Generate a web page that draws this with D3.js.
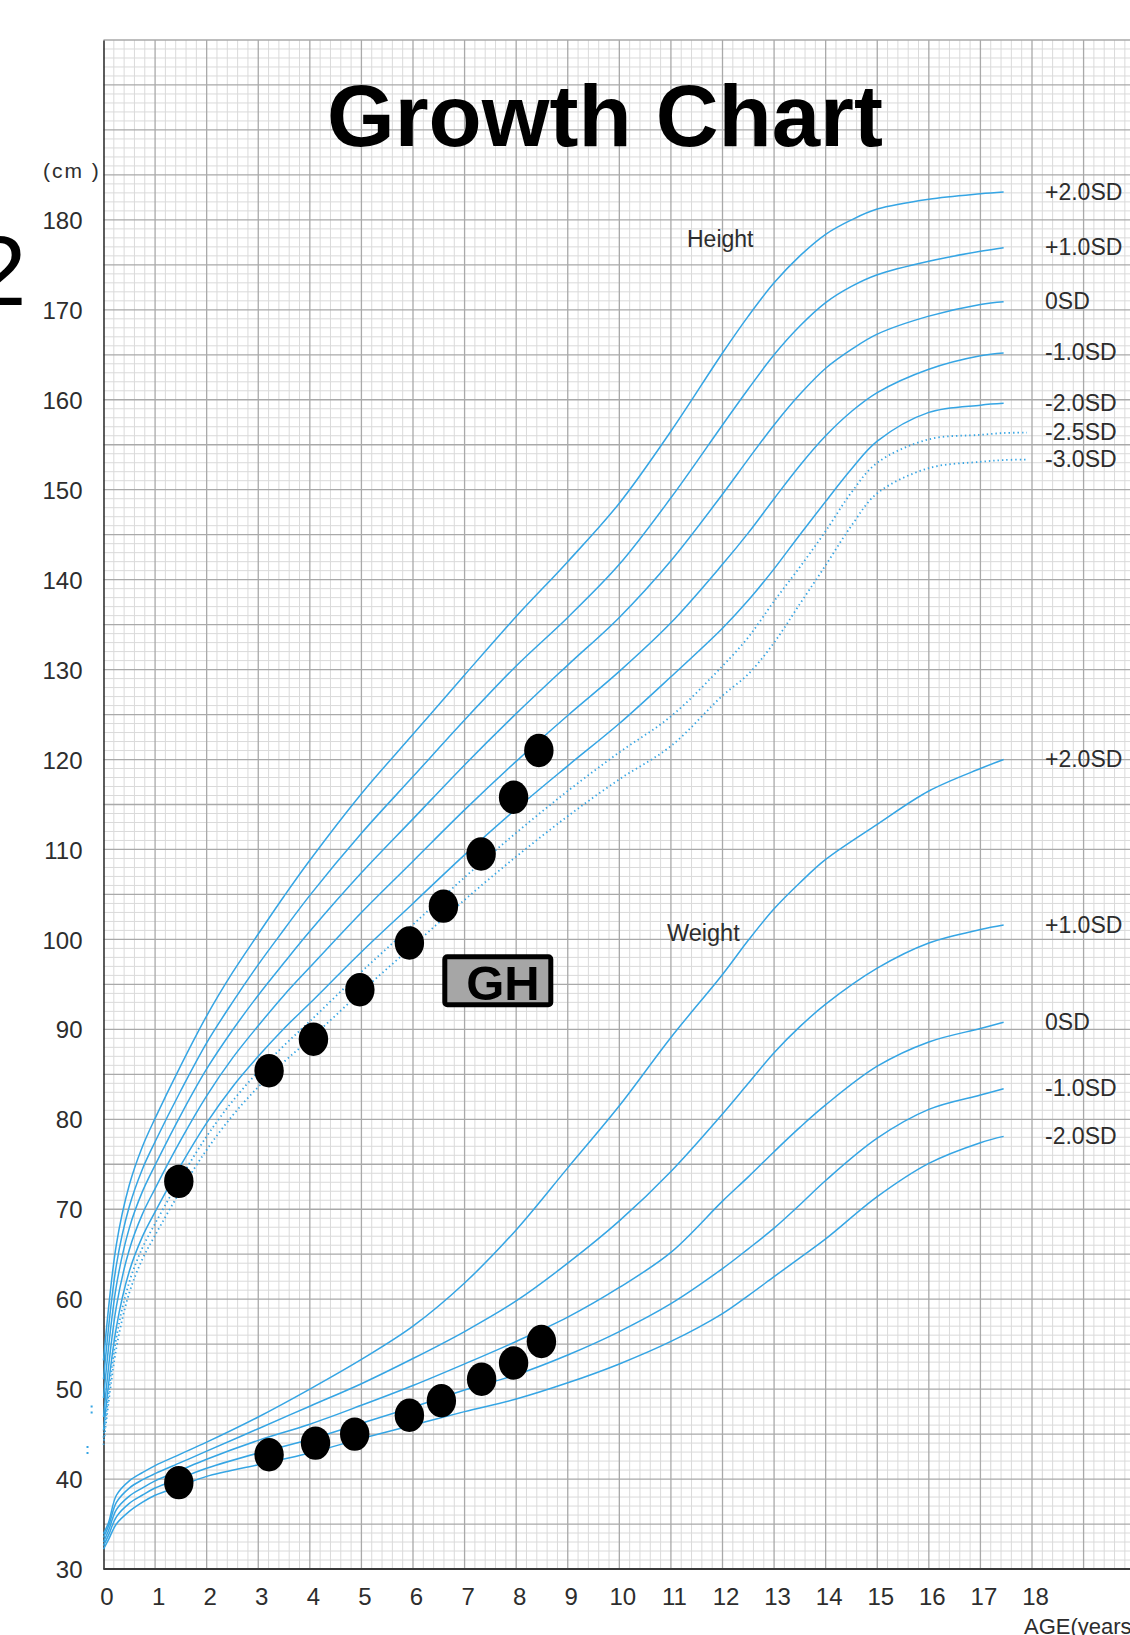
<!DOCTYPE html>
<html><head><meta charset="utf-8">
<script src="https://cdn.jsdelivr.net/npm/d3@7"></script>
<style>
body{margin:0;background:#fff}
svg{display:block}
text{font-family:"Liberation Sans",Arial,Helvetica,sans-serif}
</style>
</head><body>
<svg id="chart" width="1130" height="1635"></svg>
<script>
// ---------- DATA (axis units: cm; weight curves drawn on the same axis) ----------
const xTicks = [0,1,2,3,4,5,6,7,8,9,10,11,12,13,14,15,16,17,18];
const yTicks = [30,40,50,60,70,80,90,100,110,120,130,140,150,160,170,180];

const ageH  = [0,0.25,0.5,0.75,1,1.5,2,2.5,3,3.5,4,5,6,7,8,9,10,11,12,12.5,13,13.5,14,14.5,15,16,17,17.45];
const hP2 = [53.2,66.1,72.7,76.9,80.1,86.0,91.5,96.3,100.6,104.8,108.8,116.2,122.8,129.4,135.9,142.0,148.5,156.5,165.2,169.3,173.0,176.0,178.4,180.0,181.2,182.3,182.9,183.1];
const hP1 = [51.1,63.8,70.3,74.4,77.5,83.2,88.5,93.0,97.2,101.1,104.9,111.8,118.1,124.4,130.4,135.8,141.7,149.1,157.2,161.2,165.0,168.2,170.8,172.6,173.9,175.4,176.5,176.9];
const h0  = [49.0,61.5,67.9,71.9,74.9,80.5,85.6,89.9,93.8,97.4,100.9,107.4,113.4,119.4,125.1,130.5,135.8,142.1,149.5,153.4,157.2,160.6,163.5,165.6,167.3,169.3,170.6,170.9];
const hM1 = [46.9,59.2,65.5,69.4,72.3,77.7,82.6,86.8,90.4,93.8,96.9,103.0,108.7,114.4,119.8,124.9,129.8,135.2,141.7,145.2,149.0,152.7,156.0,158.7,160.8,163.4,164.9,165.2];
const hM2 = [45.4,56.9,63.1,66.9,69.7,74.9,79.6,83.6,87.0,90.1,92.9,98.6,104.0,109.4,114.5,119.3,124.0,129.2,134.6,137.7,141.2,145.0,148.7,152.3,155.4,158.6,159.4,159.6];

const ageHD = [0,0.25,0.5,0.75,1,1.5,2,2.5,3,3.5,4,5,6,7,8,9,10,11,12,12.5,13,13.5,14,14.5,15,16,17,17.45,17.9];
const hM25 = [44.6,55.75,61.9,65.65,68.4,73.5,78.1,82.0,85.3,88.2,90.9,96.4,101.65,106.9,111.85,116.5,120.8,124.8,130.4,133.6,137.6,141.4,145.4,149.7,153.0,155.6,156.1,156.3,156.35];
const hM3  = [43.8,54.6,60.7,64.4,67.1,72.1,76.6,80.4,83.6,86.4,88.9,94.2,99.3,104.4,109.2,113.7,117.8,121.5,127.1,129.5,133.0,137.3,141.6,146.0,149.6,152.4,153.1,153.3,153.35];

const ageW = [0,0.1,0.25,0.5,0.75,1,1.5,2,3,4,5,6,7,8,9,10,11,12,12.5,13,13.5,14,15,16,17,17.45];
const wP2 = [33.9,35.2,38.2,39.8,40.7,41.5,42.8,44.1,46.9,50.0,53.3,57.0,61.8,67.7,74.6,81.5,89.1,96.1,99.9,103.4,106.3,108.9,112.8,116.5,119.0,120.0];
const wP1 = [33.5,34.8,37.4,39.0,39.9,40.6,41.85,43.1,45.6,48.1,50.6,53.4,56.4,59.8,64.0,68.7,74.2,80.6,84.0,87.4,90.3,92.8,96.8,99.6,101.1,101.6];
const w0  = [33.0,34.3,36.6,38.1,39.0,39.8,41.0,42.2,44.3,46.1,48.2,50.4,52.8,55.3,58.0,61.3,65.2,70.9,73.6,76.4,79.1,81.6,85.9,88.6,90.1,90.8];
const wM1 = [32.6,33.8,35.8,37.3,38.2,39.0,40.1,41.2,42.9,44.4,46.2,48.0,49.9,51.6,53.8,56.4,59.5,63.4,65.6,67.9,70.5,73.2,77.9,81.1,82.7,83.4];
const wM2 = [32.2,33.3,35.0,36.4,37.4,38.2,39.25,40.3,41.6,42.9,44.5,46.0,47.5,48.9,50.7,52.8,55.3,58.4,60.4,62.5,64.6,66.7,71.4,75.1,77.4,78.1];

const heightLabels = ["+2.0SD","+1.0SD","0SD","-1.0SD","-2.0SD","-2.5SD","-3.0SD"];
const weightLabels = ["+2.0SD","+1.0SD","0SD","-1.0SD","-2.0SD"];

// patient measurements
const ptAgeH = [1.46,3.21,4.07,4.97,5.93,6.59,7.32,7.95,8.44];
const ptH    = [73.1,85.4,88.9,94.4,99.6,103.7,109.5,115.8,121.0];
const ptAgeW = [1.46,3.21,4.11,4.87,5.93,6.55,7.33,7.95,8.49];
const ptW    = [39.6,42.7,44.0,45.0,47.1,48.7,51.1,52.9,55.3];

// small dotted marks left of the axis
const birthAge = [-0.23,-0.31];
const birthLo  = [47.3,42.8];
const birthHi  = [48.6,44.0];

// ---------- DRAW ----------
const W = 1130, H = 1635;
const svg = d3.select("#chart");
svg.append("rect").attr("width",W).attr("height",H).attr("fill","#fff");

const x = d3.scaleLinear().domain([0,18]).range([103.5,1032]);
const y = d3.scaleLinear().domain([30,200]).range([1569,40]);
const xMax = x.invert(W);

const grid = svg.append("g");
d3.range(0, xMax, 0.2).filter(a => Math.abs(a - Math.round(a)) > 1e-6).forEach(a => {
  grid.append("line").attr("x1",x(a)).attr("x2",x(a)).attr("y1",y(200)).attr("y2",y(30))
    .attr("stroke","#dadada").attr("stroke-width",1);
});
d3.range(31, 200, 1).filter(v => v % 5 !== 0).forEach(v => {
  grid.append("line").attr("x1",x(0)).attr("x2",W).attr("y1",y(v)).attr("y2",y(v))
    .attr("stroke","#dadada").attr("stroke-width",1);
});
d3.range(1, Math.floor(xMax)+1, 1).forEach(a => {
  grid.append("line").attr("x1",x(a)).attr("x2",x(a)).attr("y1",y(200)).attr("y2",y(30))
    .attr("stroke","#a9a9a9").attr("stroke-width",1.3);
});
d3.range(35, 201, 5).forEach(v => {
  grid.append("line").attr("x1",x(0)).attr("x2",W).attr("y1",y(v)).attr("y2",y(v))
    .attr("stroke","#a9a9a9").attr("stroke-width",1.3);
});

// axes
const axL = svg.append("g").attr("transform",`translate(${x(0)},0)`)
  .call(d3.axisLeft(y).tickValues(yTicks).tickSize(0).tickPadding(21).tickFormat(d3.format("d")));
axL.select(".domain").attr("stroke","#333").attr("stroke-width",1.6);
axL.selectAll("text").attr("font-size",24).attr("fill","#2d2d2d").attr("dy","0.36em")
   .attr("font-family",'"Liberation Sans",Arial,sans-serif');

const axB = svg.append("g").attr("transform",`translate(0,${y(30)})`)
  .call(d3.axisBottom(x).tickValues(xTicks).tickSize(0).tickPadding(19).tickFormat(d3.format("d")));
axB.select(".domain").remove();
svg.append("line").attr("x1",x(0)).attr("x2",W).attr("y1",y(30)).attr("y2",y(30))
  .attr("stroke","#3a3a3a").attr("stroke-width",2);
axB.selectAll("text").attr("font-size",24).attr("fill","#2d2d2d").attr("dx","3")
   .attr("font-family",'"Liberation Sans",Arial,sans-serif');

// curves
const line = d3.line().x(d => x(d[0])).y(d => y(d[1])).curve(d3.curveCatmullRom.alpha(0.5));
const blue = "#35a5e4";
const curves = svg.append("g").attr("fill","none");
function drawCurve(ages, vals, dotted) {
  const p = curves.append("path").datum(ages.map((a,i)=>[a,vals[i]]))
    .attr("d", line).attr("stroke", blue).attr("stroke-width", dotted ? 1.8 : 1.5);
  if (dotted) p.attr("stroke-dasharray","1.4,3").attr("stroke-linecap","butt");
}
[hP2,hP1,h0,hM1,hM2].forEach(s => drawCurve(ageH, s, false));
[hM25,hM3].forEach(s => drawCurve(ageHD, s, true));
[wP2,wP1,w0,wM1,wM2].forEach(s => drawCurve(ageW, s, false));
birthAge.forEach((a,i) => {
  curves.append("line").attr("x1",x(a)).attr("x2",x(a)).attr("y1",y(birthLo[i])).attr("y2",y(birthHi[i]))
    .attr("stroke",blue).attr("stroke-width",2).attr("stroke-dasharray","2,4");
});

// SD labels at curve ends
const lab = svg.append("g").attr("font-size",23).attr("fill","#2d2d2d");
[hP2,hP1,h0,hM1,hM2,hM25,hM3].forEach((s,i) => {
  lab.append("text").attr("x",1045).attr("y", y(s[s.length-1]) + 7.5).text(heightLabels[i]);
});
[wP2,wP1,w0,wM1,wM2].forEach((s,i) => {
  lab.append("text").attr("x",1045).attr("y", y(s[s.length-1]) + 7.5).text(weightLabels[i]);
});

// annotations
svg.append("text").attr("x",687).attr("y",247).attr("font-size",23).attr("fill","#2d2d2d").text("Height");
svg.append("text").attr("x",667).attr("y",941).attr("font-size",23.5).attr("fill","#2d2d2d").text("Weight");
svg.append("text").attr("x",43).attr("y",178).attr("font-size",21).attr("letter-spacing",2).attr("fill","#2d2d2d").text("(cm )");
svg.append("text").attr("x",1024).attr("y",1634).attr("font-size",22).attr("fill","#2d2d2d").text("AGE(years)");
svg.append("text").attr("x",605).attr("y",146).attr("text-anchor","middle").attr("font-size",87)
  .attr("font-weight","bold").attr("fill","#000").text("Growth Chart");
svg.append("text").attr("x",-28).attr("y",305).attr("font-size",98).attr("fill","#000").text("2");

// patient points
const pts = svg.append("g").attr("fill","#000");
ptAgeH.forEach((a,i) => pts.append("ellipse").attr("cx",x(a)).attr("cy",y(ptH[i])).attr("rx",14.7).attr("ry",16.7));
ptAgeW.forEach((a,i) => pts.append("ellipse").attr("cx",x(a)).attr("cy",y(ptW[i])).attr("rx",14.7).attr("ry",16.7));

// GH box
svg.append("rect").attr("x",444.8).attr("y",956.8).attr("width",106).attr("height",48).attr("rx",2.5)
  .attr("fill","#a6a6a6").attr("stroke","#000").attr("stroke-width",5);
svg.append("text").attr("x",503).attr("y",1000).attr("text-anchor","middle").attr("font-size",49)
  .attr("font-weight","bold").attr("fill","#000").text("GH");
</script>
</body></html>
